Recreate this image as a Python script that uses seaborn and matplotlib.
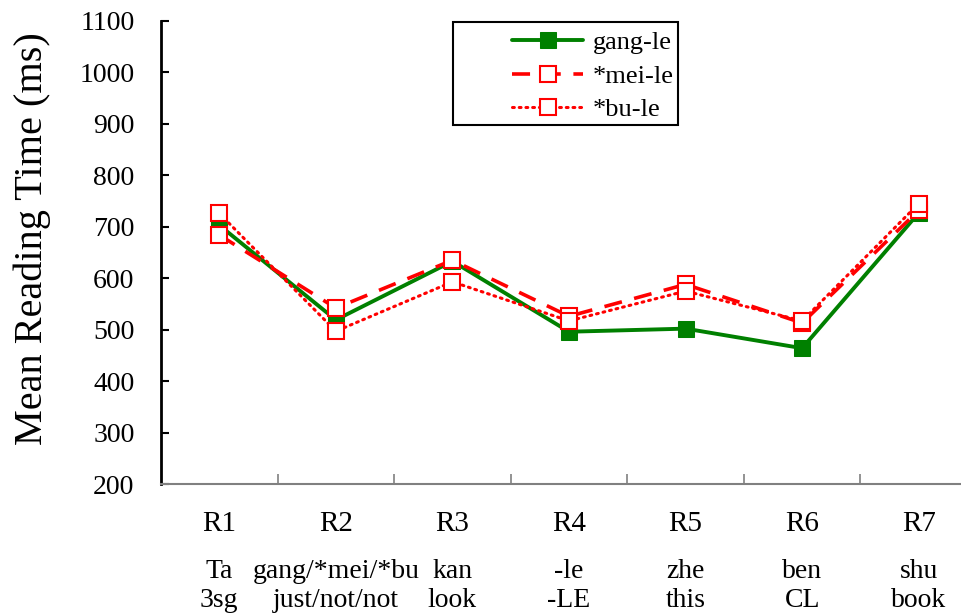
import numpy as np
import pandas as pd
import matplotlib
matplotlib.use("Agg")
import matplotlib.pyplot as plt
from matplotlib.patches import Rectangle
import seaborn as sns

# ---- data ----
regions = ['R1', 'R2', 'R3', 'R4', 'R5', 'R6', 'R7']
words = ['Ta', 'gang/*mei/*bu', 'kan', '-le', 'zhe', 'ben', 'shu']
glosses = ['3sg', 'just/not/not', 'look', '-LE', 'this', 'CL', 'book']
gang_le = [703, 519, 633, 496, 502, 464, 727]
mei_le = [684, 542, 635, 526, 588, 513, 732]
bu_le = [726, 497, 593, 517, 575, 517, 745]

sns.set_theme(style="white")
plt.rcParams['font.family'] = ['Liberation Serif', 'DejaVu Serif']
plt.rcParams['text.color'] = 'black'
plt.rcParams['axes.labelcolor'] = 'black'
plt.rcParams['xtick.labelcolor'] = 'black'
plt.rcParams['ytick.labelcolor'] = 'black'

df = pd.DataFrame({'region': regions, 'gang-le': gang_le,
                   '*mei-le': mei_le, '*bu-le': bu_le})

W, H = 961, 616
fig = plt.figure(figsize=(W / 100, H / 100), dpi=100)
ax = fig.add_axes([161 / W, 132 / H, 816 / W, 463 / H])

x = np.arange(len(regions))
sns.lineplot(x=x, y=df['gang-le'], ax=ax, color='#008000', lw=2.8,
             marker='s', markersize=12, markerfacecolor='#008000',
             markeredgecolor='#008000', label='gang-le')
sns.lineplot(x=x, y=df['*mei-le'], ax=ax, color='#ff0000', lw=2.6,
             dashes=(5, 3.5), marker='s', markersize=12,
             markerfacecolor='white', markeredgecolor='#ff0000',
             markeredgewidth=1.5, label='*mei-le')
sns.lineplot(x=x, y=df['*bu-le'], ax=ax, color='#ff0000', lw=2.2,
             linestyle=(0, (0.6, 1.6)), dash_capstyle='round',
             marker='s', markersize=12, markerfacecolor='white',
             markeredgecolor='#ff0000', markeredgewidth=1.5, label='*bu-le')

ax.set_xlim(-0.5, len(regions) - 0.5)
ax.set_ylim(200, 1100)
ax.set_yticks(range(200, 1101, 100))
ax.tick_params(axis='y', direction='in', length=6, width=1.5, color='black',
               labelsize=20, pad=19, left=True)

# category boundaries as ticks, labels at centers
ax.set_xticks(np.arange(len(regions) - 1) + 0.5)
ax.set_xticklabels([])
ax.tick_params(axis='x', which='major', direction='in', length=7, width=1.2,
               color='#808080', bottom=True)
ax.set_xticks(x, minor=True)
ax.set_xticklabels(regions, minor=True)
ax.tick_params(axis='x', which='minor', length=0, labelsize=21, pad=19.5)

for i in x:
    ax.text(i, -0.163, words[i] + '\n' + glosses[i], transform=ax.get_xaxis_transform(),
            ha='center', va='top', fontsize=20, linespacing=1.18)

ax.set_xlabel('')
ax.set_ylabel('Mean Reading Time (ms)', fontsize=29)
ax.yaxis.set_label_coords(-0.135, 0.53)

for s in ['top', 'right']:
    ax.spines[s].set_visible(False)
ax.spines['left'].set_color('black')
ax.spines['left'].set_linewidth(2)
ax.spines['bottom'].set_color('#808080')
ax.spines['bottom'].set_linewidth(1.5)
ax.grid(False)

# legend: frame drawn separately to get the wide left margin
fig.patches.append(Rectangle((453 / W, 1 - 125 / H), 225 / W, 103 / H,
                             transform=fig.transFigure, fill=False,
                             edgecolor='black', linewidth=1.5))
ax.legend(loc='upper left', bbox_to_anchor=(512 / W, 1 - 31 / H),
          bbox_transform=fig.transFigure, fontsize=19, frameon=False,
          handlelength=2.7, handletextpad=0.35, borderpad=0,
          labelspacing=0.38, borderaxespad=0)

fig.savefig('out.png', dpi=100)
